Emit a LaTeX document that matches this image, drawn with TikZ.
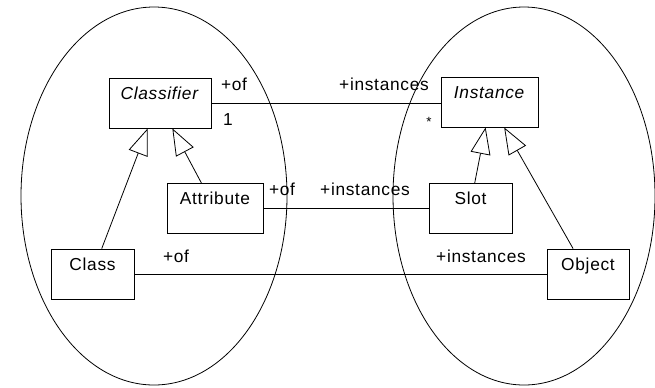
\documentclass[tikz,border=0pt]{standalone}
\usepackage{fontspec}
\setmainfont{Liberation Sans}[LetterSpace=4]
\usetikzlibrary{arrows.meta,calc}
\begin{document}
\begin{tikzpicture}[x=0.75pt, y=-0.75pt,
    classbox/.style={rectangle, draw, line width=0.6pt, fill=white, inner xsep=0pt, inner ysep=0pt, text height=15.75pt, text depth=21.75pt, minimum height=37.5pt, font=\fontsize{13}{15}\selectfont},
    rolestyle/.style={inner sep=0pt, font=\fontsize{13}{15}\selectfont},
    assocstyle/.style={line width=0.6pt},
    inheritstyle/.style={-{Triangle[open, length=20pt, width=15pt]}, line width=0.6pt},
    groupstyle/.style={line width=0.6pt}
]
    \useasboundingbox (0,0) rectangle (655,387);

    % the two groups
    \draw[groupstyle] (154,196) ellipse [x radius=99.75pt, y radius=141.75pt];
    \draw[groupstyle] (524,196) ellipse [x radius=98.25pt, y radius=141.75pt];

    \node[classbox, minimum width=76.5pt] (cfr) at (160,103) {\textit{Classifier}};
    \node[classbox, minimum width=72.75pt] (inst) at (489.5,102) {\textit{Instance}};
    \node[classbox, minimum width=72pt] (attr) at (215,208.5) {Attribute};
    \node[classbox, minimum width=62.25pt] (slot) at (470.5,208.5) {Slot};
    \node[classbox, minimum width=62.25pt] (cls) at (92.5,274) {Class};
    \node[classbox, minimum width=61.5pt] (obj) at (588,274) {Object};

    \draw[assocstyle] (cfr.east) -- (cfr.east -| inst.west);
    \draw[assocstyle] (attr.east) -- (attr.east -| slot.west);
    \draw[assocstyle] (cls.east) -- (obj.west);

    \draw[inheritstyle] ($(cls.north west)!0.61!(cls.north east)$) -- ($(cfr.south west)!0.38!(cfr.south east)$);
    \draw[inheritstyle] ($(attr.north west)!0.36!(attr.north east)$) -- ($(cfr.south west)!0.62!(cfr.south east)$);
    \draw[inheritstyle] ($(slot.north west)!0.55!(slot.north east)$) -- ($(inst.south west)!0.46!(inst.south east)$);
    \draw[inheritstyle] ($(obj.north west)!0.32!(obj.north east)$) -- ($(inst.south west)!0.65!(inst.south east)$);

    \node[rolestyle] (of1) at (234,84) {+of};
    \node[rolestyle] (one) at (228,120) {1};
    \node[rolestyle] (ins1) at (384,84) {+instances};
    \node[rolestyle, font=\fontsize{10}{12}\selectfont] (many) at (429,122) {*};
    \node[rolestyle] (of2) at (282,189) {+of};
    \node[rolestyle] (ins2) at (365,189) {+instances};
    \node[rolestyle] (of3) at (176,256) {+of};
    \node[rolestyle] (ins3) at (481,256) {+instances};
\end{tikzpicture}
\end{document}
